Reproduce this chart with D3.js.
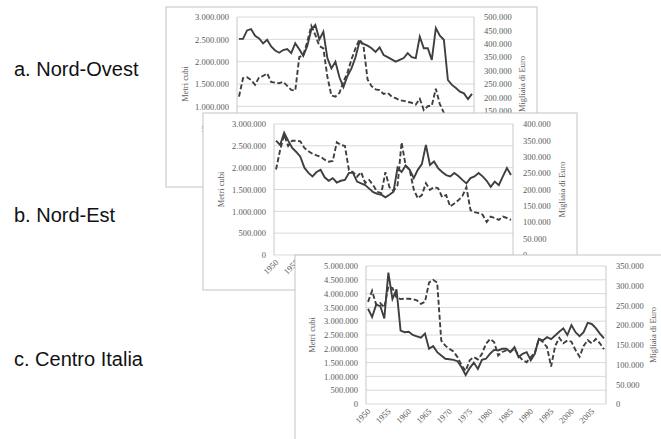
<!DOCTYPE html>
<html>
<head>
<meta charset="utf-8">
<script src="https://cdn.jsdelivr.net/npm/d3@7"></script>
<style>
  body { margin: 0; background: #fff; }
  .tick text { font-family: "Liberation Serif", serif; font-size: 8.5px; fill: #5a5a5a; }
  .title { font-family: "Liberation Serif", serif; font-size: 8.5px; fill: #5a5a5a; }
  .region { font-family: "Liberation Sans", Arial, sans-serif; font-size: 20px; fill: #111; }
</style>
</head>
<body>
<script>
const years = [1950, 1951, 1952, 1953, 1954, 1955, 1956, 1957, 1958, 1959,
  1960, 1961, 1962, 1963, 1964, 1965, 1966, 1967, 1968, 1969,
  1970, 1971, 1972, 1973, 1974, 1975, 1976, 1977, 1978, 1979,
  1980, 1981, 1982, 1983, 1984, 1985, 1986, 1987, 1988, 1989,
  1990, 1991, 1992, 1993, 1994, 1995, 1996, 1997, 1998, 1999,
  2000, 2001, 2002, 2003, 2004, 2005, 2006, 2007, 2008];
const yearTicks = [1950, 1955, 1960, 1965, 1970, 1975, 1980, 1985, 1990, 1995, 2000, 2005];

// metri cubi and migliaia di euro, both in thousands
const nordOvestMetri = [2510, 2510, 2700, 2730, 2580, 2520, 2410, 2490, 2340, 2250,
  2200, 2260, 2280, 2190, 2410, 2280, 2130, 2350, 2720, 2820,
  2500, 2670, 2080, 1850, 2000, 1650, 1430, 1680, 1850, 2100,
  2450, 2400, 2360, 2300, 2220, 2320, 2150, 2100, 2050, 2000,
  2040, 2080, 2190, 2100, 2080, 2560, 2300, 2300, 2040, 2750,
  2580, 2490, 1590, 1480, 1410, 1330, 1290, 1160, 1280];
const nordOvestEuro = [203, 272, 275, 265, 247, 275, 280, 290, 258, 255,
  253, 258, 243, 228, 225, 350, 358, 408, 467, 433,
  392, 383, 277, 207, 203, 217, 258, 292, 342, 383,
  417, 392, 267, 242, 230, 227, 213, 217, 203, 197,
  190, 187, 183, 180, 173, 195, 153, 167, 170, 232,
  175, 142, 133, 130, 125, 120, 117, 113, 117];

const nordEstMetri = [2620, 2520, 2800, 2620, 2450, 2360, 2250, 2000, 1880, 1800,
  1900, 1950, 1780, 1700, 1760, 1660, 1700, 1720, 1880, 1880,
  1680, 1640, 1600, 1520, 1440, 1400, 1380, 1320, 1380, 1450,
  2000, 1900, 2050, 1950, 1760, 1950, 2080, 2520, 2060, 2140,
  1990, 1900, 1830, 1800, 1880, 1810, 1720, 1640, 1760, 1800,
  1880, 1800, 1700, 1560, 1680, 1600, 1800, 1990, 1830];
const nordEstEuro = [261, 320, 367, 333, 349, 349, 347, 327, 317, 309,
  304, 300, 291, 285, 287, 344, 336, 333, 259, 253,
  239, 253, 220, 229, 213, 193, 189, 253, 207, 196,
  213, 344, 273, 260, 200, 173, 183, 219, 199, 207,
  204, 177, 183, 148, 157, 167, 180, 207, 137, 131,
  128, 123, 101, 117, 113, 107, 117, 113, 107];

const centroMetri = [3450, 3150, 3600, 3550, 3100, 4760, 3800, 4150, 2660, 2600,
  2620, 2500, 2450, 2400, 2550, 2000, 2100, 1880, 1760, 1640,
  1620, 1600, 1550, 1330, 1050, 1300, 1500, 1270, 1600, 1640,
  1820, 1960, 1940, 2000, 2000, 1880, 2060, 1700, 1820, 1880,
  1580, 1820, 2360, 2300, 2420, 2350, 2480, 2620, 2740, 2500,
  2860, 2600, 2460, 2600, 2940, 2900, 2750, 2550, 2380];
const centroEuro = [259, 287, 252, 256, 245, 298, 294, 270, 266, 267,
  267, 266, 263, 254, 259, 308, 315, 308, 161, 148,
  140, 133, 119, 98, 84, 111, 119, 113, 127, 153,
  165, 157, 123, 132, 136, 133, 140, 123, 111, 106,
  119, 130, 165, 157, 144, 95, 147, 168, 154, 161,
  158, 137, 120, 147, 162, 154, 165, 154, 139];

const ticks3M = [0, 500, 1000, 1500, 2000, 2500, 3000];
const ticks5M = [0, 500, 1000, 1500, 2000, 2500, 3000, 3500, 4000, 4500, 5000];
const ticks500k = [0, 50, 100, 150, 200, 250, 300, 350, 400, 450, 500];
const ticks400k = [0, 50, 100, 150, 200, 250, 300, 350, 400];
const ticks350k = [0, 50, 100, 150, 200, 250, 300, 350];

const regionLabels = ['a. Nord-Ovest', 'b. Nord-Est', 'c. Centro Italia'];

const it = d3.formatLocale({ decimal: ',', thousands: '.', grouping: [3], currency: ['', '€'] });
const fmt = v => it.format(',d')(v * 1000);

const svg = d3.select('body')
  .append('svg')
  .attr('width', 661)
  .attr('height', 439);

function drawPanel(p) {

  const g = svg.append('g');

  g.append('rect')
    .attr('x', p.frame[0])
    .attr('y', p.frame[1])
    .attr('width', p.frame[2])
    .attr('height', p.frame[3])
    .attr('fill', '#fff')
    .attr('stroke', '#c4c4c4');

  const x = d3.scaleBand()
    .domain(years)
    .range([p.left, p.right]);

  const yL = d3.scaleLinear()
    .domain([0, d3.max(p.leftTicks)])
    .range([p.bottom, p.top]);

  const yR = d3.scaleLinear()
    .domain([0, d3.max(p.rightTicks)])
    .range([p.bottom, p.top]);

  g.selectAll('line.grid')
    .data(p.leftTicks)
    .enter()
    .append('line')
    .attr('class', 'grid')
    .attr('x1', p.left)
    .attr('x2', p.right)
    .attr('y1', d => yL(d))
    .attr('y2', d => yL(d))
    .attr('stroke', '#d9d9d9');

  [p.left, p.right].forEach(xx => {
    g.append('line')
      .attr('x1', xx).attr('x2', xx)
      .attr('y1', p.top).attr('y2', p.bottom)
      .attr('stroke', '#c8c8c8');
  });

  const leftAxis = g.append('g')
    .attr('transform', `translate(${p.left - 5}, 0)`)
    .call(d3.axisLeft(yL).tickValues(p.leftTicks).tickFormat(fmt).tickSize(0));

  const rightAxis = g.append('g')
    .attr('transform', `translate(${p.right + 7}, 0)`)
    .call(d3.axisRight(yR).tickValues(p.rightTicks).tickFormat(fmt).tickSize(0));

  const xAxis = g.append('g')
    .attr('transform', `translate(0, ${p.bottom})`)
    .call(d3.axisBottom(x).tickValues(yearTicks).tickSize(0));

  xAxis.selectAll('text')
    .attr('text-anchor', 'end')
    .attr('dy', null)
    .attr('y', 0)
    .attr('transform', 'translate(3, 8) rotate(-45)');

  [leftAxis, rightAxis, xAxis].forEach(a => {
    a.select('.domain').remove();
    a.selectAll('text').attr('fill', null);
  });

  g.append('text')
    .attr('class', 'title')
    .attr('text-anchor', 'middle')
    .attr('transform', `translate(${p.leftTitle}, ${(p.top + p.bottom) / 2}) rotate(-90)`)
    .text('Metri cubi');

  g.append('text')
    .attr('class', 'title')
    .attr('text-anchor', 'middle')
    .attr('transform', `translate(${p.rightTitle}, ${(p.top + p.bottom) / 2}) rotate(-90)`)
    .text('Migliaia di Euro');

  const cx = d => x(d) + x.bandwidth() / 2;

  const lineL = d3.line()
    .x((d, i) => cx(years[i]))
    .y(d => yL(d));

  const lineR = d3.line()
    .x((d, i) => cx(years[i]))
    .y(d => yR(d));

  g.append('path')
    .datum(p.euro)
    .attr('d', lineR)
    .attr('fill', 'none')
    .attr('stroke', '#3f3f3f')
    .attr('stroke-width', 1.9)
    .attr('stroke-dasharray', '5,2.5');

  g.append('path')
    .datum(p.metri)
    .attr('d', lineL)
    .attr('fill', 'none')
    .attr('stroke', '#3f3f3f')
    .attr('stroke-width', 1.9);
}

drawPanel({
  frame: [166, 7, 371, 180],
  left: 237, right: 474, top: 17, bottom: 151,
  leftTicks: ticks3M, rightTicks: ticks500k,
  leftTitle: 188, rightTitle: 525,
  metri: nordOvestMetri, euro: nordOvestEuro
});

drawPanel({
  frame: [203, 113, 374, 177],
  left: 274, right: 513, top: 124, bottom: 255,
  leftTitle: 224, rightTitle: 565,
  leftTicks: ticks3M, rightTicks: ticks400k,
  metri: nordEstMetri, euro: nordEstEuro
});

drawPanel({
  frame: [295, 255, 372, 190],
  left: 366, right: 606, top: 266, bottom: 404,
  leftTitle: 315, rightTitle: 656,
  leftTicks: ticks5M, rightTicks: ticks350k,
  metri: centroMetri, euro: centroEuro
});

svg.selectAll('text.region')
  .data(regionLabels)
  .enter()
  .append('text')
  .attr('class', 'region')
  .attr('x', 14)
  .attr('y', (d, i) => [76, 222, 366][i])
  .text(d => d);
</script>
</body>
</html>
